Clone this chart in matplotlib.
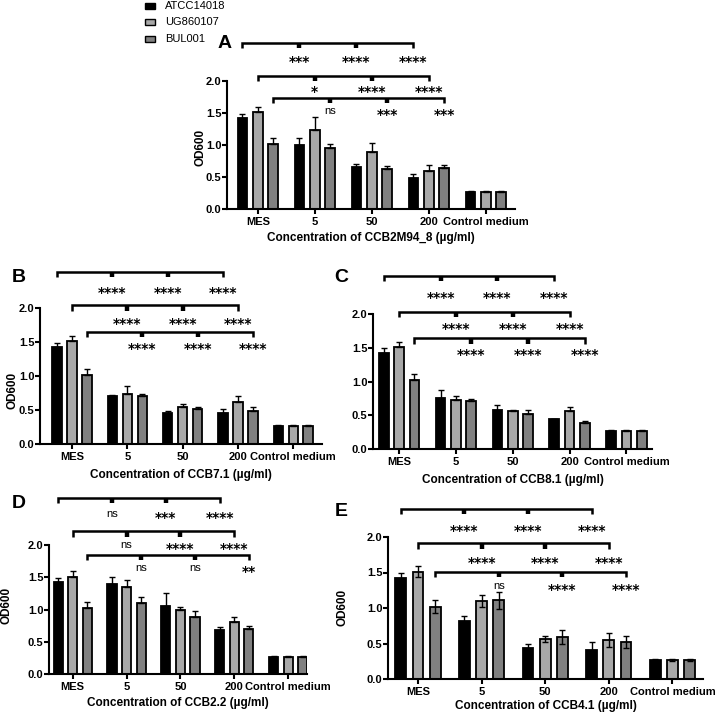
#!/usr/bin/env python3
# -*- coding: utf-8 -*-
"""
plot.py
Five-panel OD600 bar chart (three strains x concentration groups)
with Prism-style multiple comparison brackets.
"""

import matplotlib
matplotlib.use("Agg")
import matplotlib.pyplot as plt
import matplotlib.transforms as mtransforms
from matplotlib.patches import Rectangle


# =====================================================
# 1. Data
# =====================================================

GROUPS = ["MES", "5", "50", "200", "Control medium"]
STRAINS = ["ATCC14018", "UG860107", "BUL001"]

# means per strain, order of GROUPS
A_MEAN = [[1.42, 1.00, 0.65, 0.48, 0.27],
          [1.51, 1.24, 0.89, 0.60, 0.27],
          [1.02, 0.96, 0.63, 0.64, 0.27]]
A_ERR = [[0.07, 0.11, 0.06, 0.07, 0.01],
         [0.08, 0.20, 0.14, 0.08, 0.01],
         [0.09, 0.06, 0.04, 0.05, 0.01]]
A_SIG = [["***", "****", "****"],
         ["*", "****", "****"],
         ["ns", "***", "***"]]

B_MEAN = [[1.42, 0.70, 0.45, 0.45, 0.27],
          [1.51, 0.74, 0.55, 0.62, 0.27],
          [1.02, 0.70, 0.51, 0.49, 0.27]]
B_ERR = [[0.07, 0.02, 0.03, 0.06, 0.01],
         [0.08, 0.11, 0.04, 0.08, 0.01],
         [0.09, 0.03, 0.04, 0.05, 0.01]]
B_SIG = [["****", "****", "****"],
         ["****", "****", "****"],
         ["****", "****", "****"]]

C_MEAN = [[1.42, 0.75, 0.58, 0.44, 0.27],
          [1.51, 0.73, 0.56, 0.57, 0.27],
          [1.02, 0.71, 0.52, 0.39, 0.27]]
C_ERR = [[0.07, 0.13, 0.07, 0.01, 0.01],
         [0.08, 0.05, 0.02, 0.05, 0.01],
         [0.09, 0.03, 0.06, 0.02, 0.01]]
C_SIG = [["****", "****", "****"],
         ["****", "****", "****"],
         ["****", "****", "****"]]

D_MEAN = [[1.42, 1.40, 1.06, 0.68, 0.27],
          [1.51, 1.35, 0.99, 0.81, 0.27],
          [1.02, 1.10, 0.88, 0.70, 0.27]]
D_ERR = [[0.07, 0.11, 0.19, 0.05, 0.01],
         [0.08, 0.10, 0.05, 0.07, 0.01],
         [0.09, 0.09, 0.10, 0.04, 0.01]]
D_SIG = [["ns", "***", "****"],
         ["ns", "****", "****"],
         ["ns", "ns", "**"]]

E_MEAN = [[1.42, 0.82, 0.44, 0.41, 0.27],
          [1.51, 1.10, 0.56, 0.55, 0.27],
          [1.02, 1.11, 0.59, 0.52, 0.27]]
E_ERR = [[0.07, 0.07, 0.06, 0.11, 0.01],
         [0.08, 0.08, 0.04, 0.10, 0.01],
         [0.09, 0.12, 0.10, 0.09, 0.01]]
E_SIG = [["****", "****", "****"],
         ["****", "****", "****"],
         ["ns", "****", "****"]]

XLABELS = ["Concentration of CCB2M94_8 (µg/ml)",
           "Concentration of CCB7.1 (µg/ml)",
           "Concentration of CCB8.1 (µg/ml)",
           "Concentration of CCB2.2 (µg/ml)",
           "Concentration of CCB4.1 (µg/ml)"]


# =====================================================
# 2. Layout / style
# =====================================================

W, H = 715, 719
COLORS = ["#000000", "#a8a8a8", "#808080"]
FONT = "Liberation Sans"
BAR_W = 0.17
BAR_OFF = 0.27

# axes box in pixels (left, right, y of 2.0, y of 0.0), xlim, bracket y levels,
# label y levels, panel letter pos, xlabel centre y, OD600 pos, both-side error bars
PANELS = [
    dict(box=(227, 515, 81, 209), xlim=(-0.54, 4.51),
         br=(2.60, 2.08, 1.73), lab=(2.37, 1.90, 1.55),
         letter=("A", 225, 44), xlab_y=238, ylab=(201, 147), both=False),
    dict(box=(40, 322, 308, 444), xlim=(-0.58, 4.52),
         br=(2.53, 2.04, 1.65), lab=(2.30, 1.84, 1.47),
         letter=("B", 19, 278), xlab_y=475, ylab=(12, 390), both=False),
    dict(box=(373, 652, 314, 449), xlim=(-0.46, 4.45),
         br=(2.57, 2.03, 1.64), lab=(2.31, 1.85, 1.47),
         letter=("C", 341, 278), xlab_y=480, ylab=None, both=False),
    dict(box=(49, 307, 545, 674), xlim=(-0.44, 4.35),
         br=(2.73, 2.21, 1.84), lab=(2.49, 2.01, 1.66),
         letter=("D", 19, 503), xlab_y=703, ylab=(7, 605), both=False),
    dict(box=(388, 703, 537, 679), xlim=(-0.47, 4.48),
         br=(2.40, 1.91, 1.51), lab=(2.15, 1.70, 1.33),
         letter=("E", 341, 512), xlab_y=706, ylab=(342, 607), both=True),
]


def fx(px):
    return px / W


def fy(py):
    return 1.0 - py / H


# =====================================================
# 3. Drawing
# =====================================================

def draw_brackets(fig, ax, sig, levels, labels):
    for k in range(3):
        off = (k - 1) * BAR_OFF
        xs = [g + off for g in range(4)]
        yb = levels[k]
        drop = 0.08
        ax.plot([xs[0], xs[0], xs[-1], xs[-1]], [yb - drop, yb, yb, yb - drop],
                color="black", lw=1.8, clip_on=False, solid_capstyle="butt",
                solid_joinstyle="miter")
        for x in xs[1:3]:
            ax.plot([x, x], [yb, yb - drop], color="black", lw=3.2,
                    clip_on=False, solid_capstyle="butt")
        for j, s in enumerate(sig[k]):
            x = xs[j + 1]
            if s == "ns":
                tr = mtransforms.offset_copy(ax.transData, fig=fig, y=-4, units="dots")
                ax.text(x, labels[k], s, ha="center", va="baseline", fontsize=8,
                        family=FONT, transform=tr, clip_on=False)
            else:
                tr = mtransforms.offset_copy(ax.transData, fig=fig, y=-9, units="dots")
                ax.text(x, labels[k], s, ha="center", va="baseline", fontsize=10,
                        family="DejaVu Sans", fontweight="bold", transform=tr,
                        clip_on=False)


def draw_panel(fig, cfg, means, errs, sig, xlabel):
    left, right, ytop, ybot = cfg["box"]
    ax = fig.add_axes([fx(left), fy(ybot), fx(right - left), (ybot - ytop) / H])
    for k in range(3):
        xs = [g + (k - 1) * BAR_OFF for g in range(len(GROUPS))]
        ax.bar(xs, means[k], width=BAR_W, color=COLORS[k], edgecolor="black",
               linewidth=1.3, zorder=2)
        if cfg["both"]:
            yerr = errs[k]
        else:
            yerr = [[0] * len(errs[k]), errs[k]]
        ax.errorbar(xs, means[k], yerr=yerr, fmt="none", ecolor="black",
                    elinewidth=1.0, capsize=2.5, capthick=1.0, zorder=3)

    ax.set_xlim(*cfg["xlim"])
    ax.set_ylim(0, 2.0)
    ax.set_yticks([0, 0.5, 1.0, 1.5, 2.0])
    ax.set_yticklabels(["0.0", "0.5", "1.0", "1.5", "2.0"])
    ax.set_xticks(range(len(GROUPS)))
    ax.set_xticklabels(GROUPS)
    for sp in ["top", "right"]:
        ax.spines[sp].set_visible(False)
    for sp in ["left", "bottom"]:
        ax.spines[sp].set_linewidth(1.5)
    ax.tick_params(axis="both", length=3.5, width=1.5)
    ax.tick_params(axis="x", pad=2)
    ax.tick_params(axis="y", pad=0.5)
    for lbl in ax.get_xticklabels() + ax.get_yticklabels():
        lbl.set_fontfamily(FONT)
        lbl.set_fontweight("bold")
        lbl.set_fontsize(8)

    # axis titles
    fig.text(fx((left + right) / 2), fy(cfg["xlab_y"]), xlabel, ha="center",
             va="center", fontsize=8.5, fontweight="bold", family=FONT)
    if cfg["ylab"] is not None:
        yx, yy = cfg["ylab"]
        fig.text(fx(yx), fy(yy), "OD600", rotation=90, ha="center", va="center",
                 fontsize=8.5, fontweight="bold", family=FONT)

    letter, lx, ly = cfg["letter"]
    fig.text(fx(lx), fy(ly), letter, ha="center", va="center", fontsize=14,
             fontweight="bold", family=FONT)

    draw_brackets(fig, ax, sig, cfg["br"], cfg["lab"])
    return ax


def draw_legend(fig):
    ys = [6, 22, 39]
    for k, name in enumerate(STRAINS):
        fig.add_artist(Rectangle((fx(145), fy(ys[k] + 3)), fx(10), 6 / H,
                                 transform=fig.transFigure, facecolor=COLORS[k],
                                 edgecolor="black", linewidth=1.0))
        fig.text(fx(165), fy(ys[k]), name, ha="left", va="center", fontsize=8,
                 family=FONT)


# =====================================================
# 4. Main
# =====================================================

def main():
    fig = plt.figure(figsize=(W / 100, H / 100), dpi=100)
    fig.patch.set_facecolor("white")

    means = [A_MEAN, B_MEAN, C_MEAN, D_MEAN, E_MEAN]
    errs = [A_ERR, B_ERR, C_ERR, D_ERR, E_ERR]
    sigs = [A_SIG, B_SIG, C_SIG, D_SIG, E_SIG]
    for cfg, m, e, s, xl in zip(PANELS, means, errs, sigs, XLABELS):
        draw_panel(fig, cfg, m, e, s, xl)

    draw_legend(fig)
    fig.savefig("out.png", dpi=100, facecolor="white")
    plt.close(fig)


if __name__ == "__main__":
    main()
